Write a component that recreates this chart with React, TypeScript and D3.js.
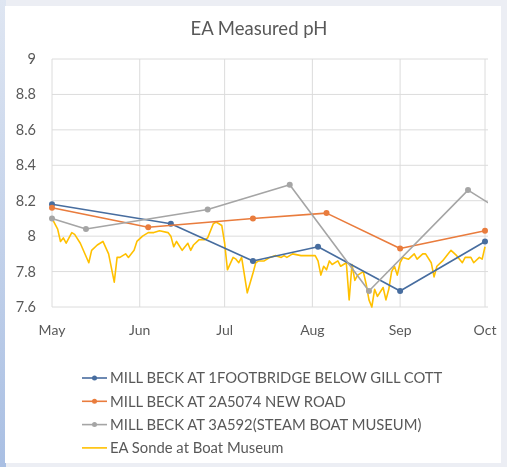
import React from "react";
import * as d3 from "d3";

const W = 507;
const H = 467;

const monthTicks = ["2015-05-01", "2015-06-01", "2015-07-01", "2015-08-01", "2015-09-01", "2015-10-01"];
const yTicks = [7.6, 7.8, 8.0, 8.2, 8.4, 8.6, 8.8, 9.0];

const footbridgeDates = ["2015-05-01", "2015-06-12", "2015-07-11", "2015-08-03", "2015-09-01", "2015-10-01"];
const footbridgeValues = [8.18, 8.07, 7.86, 7.94, 7.69, 7.97];

const newRoadDates = ["2015-05-01", "2015-06-04", "2015-07-11", "2015-08-06", "2015-09-01", "2015-10-01"];
const newRoadValues = [8.16, 8.05, 8.10, 8.13, 7.93, 8.03];

const steamBoatDates = ["2015-05-01", "2015-05-13", "2015-06-25", "2015-07-24", "2015-08-21", "2015-09-25", "2015-10-06"];
const steamBoatValues = [8.10, 8.04, 8.15, 8.29, 7.69, 8.26, 8.15];

// Sonde readings, days counted from 1 May
const sondeDays = [
  0, 2, 3, 4, 5, 7, 8, 10, 13, 14, 16, 18, 20, 22, 23, 24, 26, 27, 29, 30,
  32, 34, 36, 38, 41, 42, 43, 44, 46, 48, 49, 50, 52, 54, 55, 57, 58, 60, 61, 62,
  64, 65, 66, 67, 69, 71, 72, 73, 75, 77, 79, 81, 82, 83, 85, 88, 90, 93, 94, 95,
  96, 97, 98, 99, 101, 102, 104, 105, 106, 107, 108, 110, 111, 112, 113, 114, 115, 117, 118, 119,
  120, 121, 122, 123, 124, 126, 128, 129, 131, 132, 134, 135, 136, 138, 140, 141, 143, 145, 146, 148,
  149, 151, 152, 153,
];
const sondeValues = [
  8.10, 8.04, 7.97, 7.99, 7.96, 8.02, 8.01, 7.96, 7.85, 7.92, 7.95, 7.97, 7.90, 7.74, 7.88, 7.88, 7.90, 7.88, 7.92, 7.97,
  8.00, 8.02, 8.02, 8.03, 8.02, 8.00, 7.94, 7.97, 7.92, 7.96, 7.92, 7.95, 7.98, 7.98, 7.99, 8.07, 8.08, 8.06, 7.96, 7.81,
  7.88, 7.87, 7.85, 7.88, 7.68, 7.79, 7.85, 7.86, 7.86, 7.88, 7.89, 7.88, 7.89, 7.88, 7.90, 7.89, 7.89, 7.89, 7.86, 7.78,
  7.83, 7.81, 7.86, 7.84, 7.86, 7.83, 7.85, 7.64, 7.84, 7.75, 7.78, 7.80, 7.73, 7.64, 7.60, 7.70, 7.66, 7.71, 7.64, 7.70,
  7.80, 7.83, 7.78, 7.85, 7.88, 7.87, 7.90, 7.87, 7.90, 7.90, 7.85, 7.77, 7.83, 7.86, 7.90, 7.92, 7.89, 7.85, 7.88, 7.88,
  7.85, 7.88, 7.87, 7.94,
];

const seriesNames = [
  "MILL BECK AT 1FOOTBRIDGE BELOW GILL COTT",
  "MILL BECK AT 2A5074 NEW ROAD",
  "MILL BECK AT 3A592(STEAM BOAT MUSEUM)",
  "EA Sonde at Boat Museum",
];
const seriesColors = ["#476d9f", "#e97b3c", "#a5a5a5", "#ffc000"];

type Pt = { date: Date; value: number };

const parse = d3.timeParse("%Y-%m-%d");
const zip = (dates: string[], values: number[]): Pt[] =>
  dates.map((d, i) => ({ date: parse(d) as Date, value: values[i] }));

export default function App() {
  const left = 52;
  const right = 485;
  const plotRight = 488;
  const top = 59;
  const bottom = 307;

  const start = parse(monthTicks[0]) as Date;
  const x = d3
    .scaleTime()
    .domain([start, parse(monthTicks[monthTicks.length - 1]) as Date])
    .range([left, right]);
  const y = d3.scaleLinear().domain([7.6, 9.0]).range([bottom, top]);

  const line = d3
    .line<Pt>()
    .x((d) => x(d.date))
    .y((d) => y(d.value));

  const markerSeries: Pt[][] = [
    zip(footbridgeDates, footbridgeValues),
    zip(newRoadDates, newRoadValues),
    zip(steamBoatDates, steamBoatValues),
  ];
  const sonde: Pt[] = sondeDays.map((d, i) => ({
    date: d3.timeDay.offset(start, d),
    value: sondeValues[i],
  }));

  const font = "Lato, 'Open Sans', sans-serif";
  const legendY0 = 378;
  const legendStep = 23.3;

  return (
    <svg
      width={W}
      height={H}
      style={{ position: "absolute", left: 0, top: 0, display: "block" }}
      fontFamily={font}
    >
      <defs>
        <linearGradient id="frameLeft" x1="0" y1="0" x2="0" y2="1">
          <stop offset="0" stopColor="#dfe6f2" />
          <stop offset="1" stopColor="#a9bfe3" />
        </linearGradient>
        <clipPath id="plotClip">
          <rect x={left - 6} y={top - 6} width={plotRight - left + 6} height={bottom - top + 12} />
        </clipPath>
        <filter id="soft" x="-5%" y="-5%" width="110%" height="110%">
          <feGaussianBlur stdDeviation="0.35" />
        </filter>
      </defs>

      <rect x={0} y={0} width={W} height={H} fill="#eceef4" />
      <rect x={0} y={0} width={6} height={H} fill="url(#frameLeft)" />
      <rect x={5} y={6} width={496} height={457} fill="#ffffff" />

      <g filter="url(#soft)">
        <text x={259} y={35} textAnchor="middle" fontSize={18.5} fill="#595959">
          EA Measured pH
        </text>

        {yTicks.map((t) => (
          <line key={`h${t}`} x1={left} x2={plotRight} y1={y(t)} y2={y(t)} stroke="#dcdcdc" strokeWidth={1} />
        ))}
        {monthTicks.map((m) => {
          const xv = x(parse(m) as Date);
          return <line key={`v${m}`} x1={xv} x2={xv} y1={top} y2={bottom} stroke="#dcdcdc" strokeWidth={1} />;
        })}

        {yTicks.map((t) => (
          <text key={`yl${t}`} x={36} y={y(t) + 5} textAnchor="end" fontSize={14.5} fill="#595959">
            {d3.format("~g")(t)}
          </text>
        ))}
        {monthTicks.map((m) => {
          const d = parse(m) as Date;
          return (
            <text key={`xl${m}`} x={x(d)} y={335} textAnchor="middle" fontSize={14} fill="#595959">
              {d3.timeFormat("%b")(d)}
            </text>
          );
        })}

        <g clipPath="url(#plotClip)">
          <path d={line(sonde) ?? ""} fill="none" stroke={seriesColors[3]} strokeWidth={1.6} strokeLinejoin="round" />
          {markerSeries.map((s, i) => (
            <g key={`s${i}`}>
              <path d={line(s) ?? ""} fill="none" stroke={seriesColors[i]} strokeWidth={1.6} strokeLinejoin="round" />
              {s
                .filter((p) => x(p.date) <= plotRight)
                .map((p, j) => (
                  <circle key={j} cx={x(p.date)} cy={y(p.value)} r={3} fill={seriesColors[i]} />
                ))}
            </g>
          ))}
        </g>

        {seriesNames.map((name, i) => {
          const ly = legendY0 + i * legendStep;
          return (
            <g key={`lg${i}`}>
              <line x1={82} x2={107} y1={ly} y2={ly} stroke={seriesColors[i]} strokeWidth={1.6} />
              {i < 3 && <circle cx={94.5} cy={ly} r={2.5} fill={seriesColors[i]} />}
              <text x={110} y={ly + 5.3} fontSize={14.8} fill="#595959">
                {name}
              </text>
            </g>
          );
        })}
      </g>
    </svg>
  );
}
